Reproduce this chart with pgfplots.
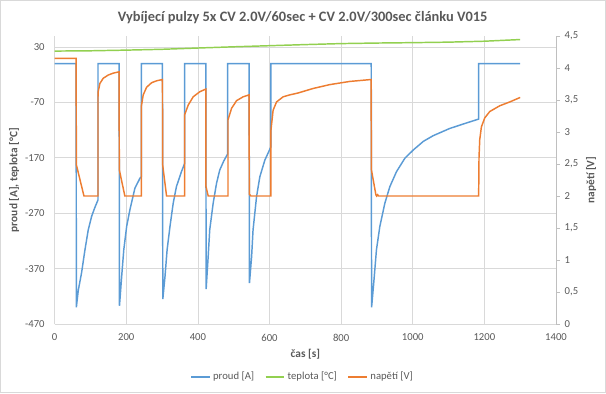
\documentclass[border=0pt]{standalone}
\usepackage{fontspec}
\setmainfont{Carlito}
\usepackage{pgfplots}
\pgfplotsset{compat=1.18}
\definecolor{cblue}{HTML}{5B9BD5}
\definecolor{cgreen}{HTML}{92D050}
\definecolor{corange}{HTML}{ED7D31}
\definecolor{ctext}{HTML}{595959}
\definecolor{cgrid}{HTML}{D9D9D9}
\definecolor{caxis}{HTML}{BFBFBF}
\begin{document}
\begin{tikzpicture}
\path[use as bounding box] (0pt,0pt) rectangle (454.5pt,294.75pt);
\draw[cgrid, line width=0.75pt] (0.375pt,0.375pt) rectangle (454.125pt,294.375pt);
\node[text=ctext, font=\fontsize{10.8}{13}\selectfont\bfseries] at (227pt,281.5pt) {Vybíjecí pulzy 5x CV 2.0V/60sec + CV 2.0V/300sec článku V015};
\begin{axis}[
  at={(41pt,51.75pt)}, anchor=south west,
  scale only axis, width=376pt, height=216pt,
  xmin=0, xmax=1400, ymin=-470, ymax=50,
  xtick={0,200,...,1400}, ytick={-470,-370,-270,-170,-70,30},
  grid=major, major grid style={cgrid, line width=0.6pt},
  axis x line*=bottom, axis y line*=left,
  axis line style={cgrid, line width=0.6pt, -},
  major tick length=0pt,
  tick label style={font=\fontsize{8}{9.6}\selectfont, text=ctext},
  /pgf/number format/assume math mode=true,
  /pgf/number format/1000 sep={},
  scaled ticks=false,
  xticklabel style={yshift=-4pt},
  yticklabel style={xshift=-4pt},
  xlabel={čas [s]},
  xlabel style={at={(axis description cs:0.5,-0.104)}, anchor=center, font=\fontsize{8.5}{10}\selectfont\bfseries, text=ctext},
  ylabel={proud [A], teplota [°C]},
  ylabel style={at={(axis description cs:-0.081,0.5)}, anchor=center, font=\fontsize{8.5}{10}\selectfont\bfseries, text=ctext},
]
\addplot[cblue, line width=1.1pt] coordinates {
(0,0) (60,0) (60.5,-440) (66,-409) (75,-378) (84.6,-336) (93.8,-300) (103,-276) (112,-260) (121,-246) (121,0) (180,0)
(181,-437) (187,-385) (193,-336) (201,-294) (210,-264) (224,-225) (238,-207) (242,-204) (242,0) (301,0)
(302,-425) (308,-385) (314,-336) (322,-294) (331,-252) (340,-222) (354,-195) (363,-180) (363,0) (422,0)
(423,-407) (428.7,-348) (433,-300) (442.6,-252) (452,-216) (461,-192) (472,-176) (483,-163) (483,0) (543,0)
(544,-396) (550,-348) (554,-300) (563.8,-240) (573,-204) (587,-174) (604,-150) (604,0) (884,0)
(885,-440) (891,-396) (898.6,-336) (908,-294) (922,-252) (936,-222) (954.5,-195) (977.7,-171) (1001,-156) (1030,-140) (1057,-130) (1103,-117) (1150,-107) (1184,-100) (1184,0) (1300,0)
};
\addplot[cgreen, line width=1.1pt] coordinates {
(0,22.8) (100,23.3) (200,24.5) (300,26) (400,28.3) (500,30.5) (600,32.5) (700,34.5) (800,36.3) (900,37.3) (1000,38) (1100,38.9) (1200,40.6) (1300,43.6)
};
\end{axis}
\begin{axis}[
  at={(41pt,51.75pt)}, anchor=south west,
  scale only axis, width=376pt, height=216pt,
  xmin=0, xmax=1400, ymin=0, ymax=4.5,
  axis x line=none, axis y line*=right,
  axis line style={caxis, line width=0.6pt, -},
  ytick={0,0.5,1,1.5,2,2.5,3,3.5,4,4.5},
  tick align=outside, major tick length=3pt,
  ytick style={caxis, line width=0.6pt},
  tick label style={font=\fontsize{8}{9.6}\selectfont, text=ctext},
  /pgf/number format/assume math mode=true,
  /pgf/number format/use comma,
  ylabel={napětí [V]},
  ylabel style={at={(axis description cs:1.07,0.5)}, anchor=center, font=\fontsize{8.5}{10}\selectfont\bfseries, text=ctext},
  legend style={at={(axis description cs:0.4953,-0.184)}, anchor=center, draw=none, fill=none,
    font=\fontsize{8}{9.6}\selectfont, text=ctext, legend columns=3,
    /tikz/every even column/.append style={column sep=6pt}},
  legend image code/.code={\draw[#1] (0pt,0pt) -- (14pt,0pt);},
]
\addlegendimage{cblue, line width=1.1pt}
\addlegendentry{proud [A]}
\addlegendimage{cgreen, line width=1.1pt}
\addlegendentry{teplota [°C]}
\addplot[corange, line width=1.1pt] coordinates {
(0,4.15) (60,4.15) (60.5,2.49) (81.8,2.0) (121,2.0) (121,3.55) (121.5,3.63) (126.4,3.76) (135.7,3.84) (149.6,3.89) (163.6,3.92) (180,3.94)
(180.5,2.41) (196,2.0) (242,2.0) (242,3.40) (247.3,3.58) (256.8,3.70) (270.7,3.77) (284.7,3.80) (301,3.82)
(301.5,2.49) (312.5,2.0) (363,2.0) (363,3.27) (372.9,3.42) (386.8,3.55) (405.5,3.63) (422,3.67)
(422.5,2.15) (428.7,2.0) (484,2.0) (484,3.19) (494,3.37) (508,3.49) (526.4,3.55) (543,3.58)
(543.5,2.03) (548,2.0) (604,2.0) (604,3.03) (610,3.34) (619.6,3.47) (638,3.55) (656.7,3.58) (680,3.61) (721.7,3.68) (768,3.74) (824,3.79) (883.6,3.82)
(884.5,2.41) (897,2.02) (899,2.0) (902,2.02) (904,2.0) (1184,2.0) (1185,2.6) (1187,2.88) (1191.7,3.08) (1201,3.22) (1215,3.32) (1243,3.41) (1271,3.47) (1300,3.54)
};
\addlegendentry{napětí [V]}
\end{axis}
\end{tikzpicture}
\end{document}
